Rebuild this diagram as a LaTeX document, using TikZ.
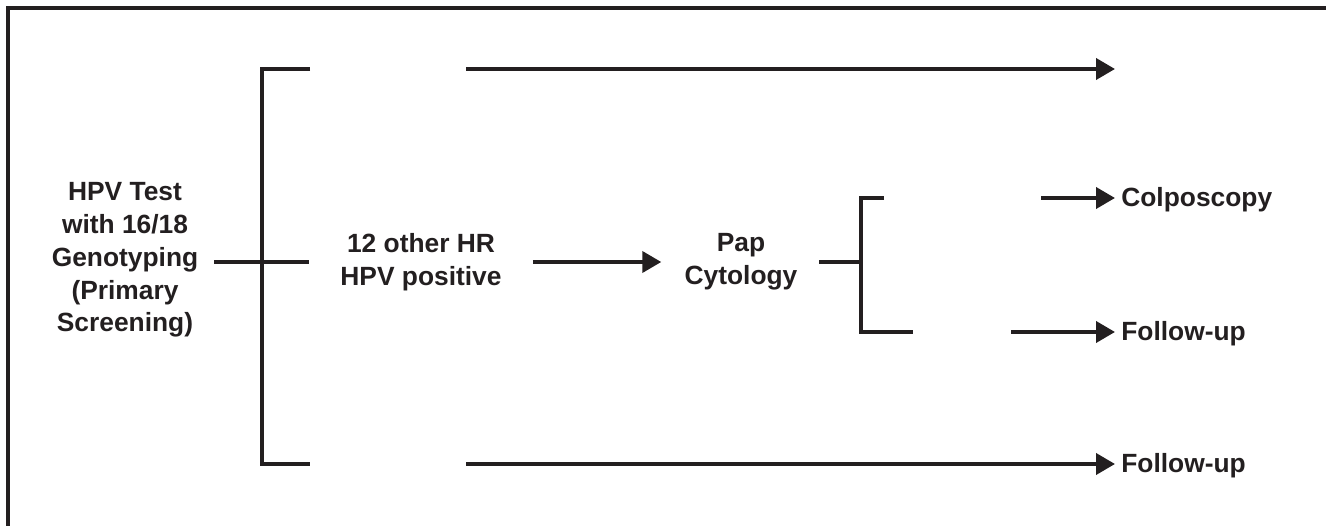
\documentclass[tikz,border=0pt]{standalone}
\usepackage{fontspec}
\setmainfont{Liberation Sans}
\usetikzlibrary{arrows.meta, positioning}
\definecolor{ink}{HTML}{231F20}
\tikzset{
  lbl/.style   ={font=\fontsize{15}{18.7}\selectfont\bfseries, text=ink,
                 align=center, inner sep=0pt},
  endlbl/.style={lbl, anchor=base west},
  wire/.style  ={draw=ink, line width=2.2pt, line join=miter},
  flow/.style  ={wire, -{Triangle[length=3.8mm,width=4.2mm]}},
  frame/.style ={draw=ink, line width=2pt}
}
\begin{document}
\begin{tikzpicture}[x=0.02cm, y=-0.02cm]
  \useasboundingbox (0,0) rectangle (1326,526);

  % Cadre
  \coordinate (fr) at (1326,8);
  \coordinate (fc) at (8,8);
  \coordinate (fb) at (8,526);
  \draw[frame] (fr) -- (fc) -- (fb);

  % Test primaire
  \node[lbl] (hpv) at (125,260) {HPV Test\\with 16/18\\Genotyping\\(Primary\\Screening)};
  \coordinate (split)  at (262,262);
  \coordinate (topend) at (310,69);
  \coordinate (midend) at (309,262);
  \coordinate (botend) at (310,464);
  \draw[wire, shorten <=3.1mm] (hpv.east |- split) -- (split);
  \draw[wire] (topend) -- (topend -| split) -- (botend -| split) -- (botend);
  \draw[wire] (split) -- (midend);

  % Branche du haut
  \coordinate (toparr) at (466,69);
  \coordinate (toptip) at (1115,69);
  \draw[flow] (toparr) -- (toptip);

  % Branche du milieu
  \node[lbl] (hrpos) at (421,262) {12 other HR\\HPV positive};
  \node[lbl] (pap)   at (741,262) {Pap\\Cytology};
  \draw[flow, shorten <=6.2mm, shorten >=4.6mm] (hrpos.east) -- (pap.west);

  \coordinate (psplit) at (861,262);
  \coordinate (ptop)   at (884,198);
  \coordinate (pbot)   at (913,332);
  \draw[wire, shorten <=4.3mm] (pap.east) -- (psplit);
  \draw[wire] (ptop) -- (ptop -| psplit) -- (pbot -| psplit) -- (pbot);

  \coordinate (colarr) at (1041,198);
  \coordinate (fuparr) at (1011,332);
  \node[endlbl] (colpo) at (1121,207) {Colposcopy};
  \node[endlbl] (fupa)  at (1121,341) {Follow-up};
  \draw[flow, shorten >=1.2mm] (colarr) -- (colpo.west |- colarr);
  \draw[flow, shorten >=1.2mm] (fuparr) -- (fupa.west |- fuparr);

  % Branche du bas
  \coordinate (botarr) at (466,464);
  \node[endlbl] (fupb) at (1121,473) {Follow-up};
  \draw[flow, shorten >=1.2mm] (botarr) -- (fupb.west |- botarr);
\end{tikzpicture}
\end{document}
